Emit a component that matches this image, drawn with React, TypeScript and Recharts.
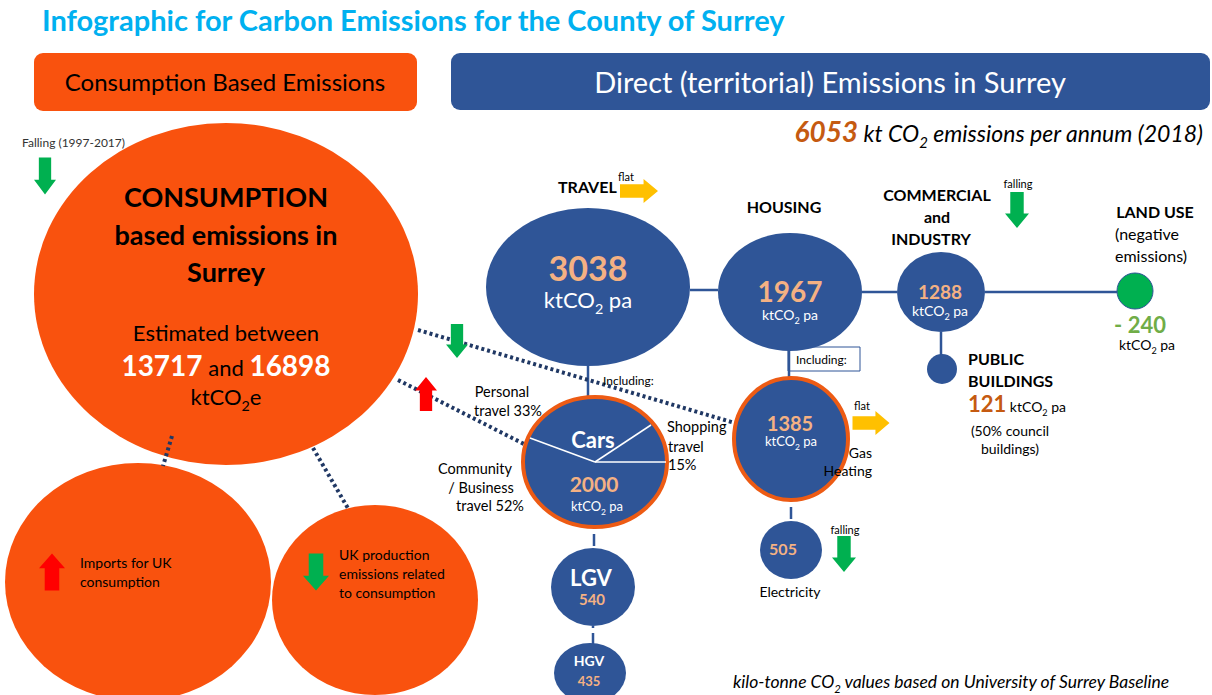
import { ScatterChart, Scatter, XAxis, YAxis, ReferenceArea } from "recharts";

const W = 1212;
const H = 695;
const FONT = "Lato, 'Open Sans', sans-serif";

const NAVY = "#2F5597";
const DARK = "#203864";
const ORANGE = "#F9520E";
const RING = "#ED5B14";
const PEACH = "#F4B183";
const RUST = "#C55A11";
const GREEN = "#00B050";
const RED = "#FF0000";
const YELLOW = "#FFC000";

// bubbles: centre and radii in chart units (the chart maps 1 unit = 1 px)
const consumptionBubbles = [
  { name: "Consumption", x: 226, y: 294, rx: 192, ry: 171, fill: ORANGE, stroke: "none" },
  { name: "Imports", x: 138, y: 582, rx: 133, ry: 119, fill: ORANGE, stroke: "none" },
  { name: "UK production", x: 375, y: 600, rx: 103, ry: 95, fill: ORANGE, stroke: "none" },
];
const directBubbles = [
  { name: "Travel", x: 588, y: 287, rx: 102, ry: 79, fill: NAVY, stroke: "none" },
  { name: "Housing", x: 790, y: 292, rx: 72, ry: 59, fill: NAVY, stroke: "none" },
  { name: "Commercial", x: 941, y: 292, rx: 44, ry: 40, fill: NAVY, stroke: "none" },
  { name: "Land use", x: 1135, y: 291, rx: 18, ry: 18, fill: GREEN, stroke: NAVY },
  { name: "Public", x: 942, y: 369, rx: 15, ry: 15, fill: NAVY, stroke: "none" },
  { name: "Cars", x: 595, y: 462, rx: 72, ry: 65, fill: NAVY, stroke: RING },
  { name: "Gas", x: 791, y: 439, rx: 57, ry: 61, fill: NAVY, stroke: RING },
  { name: "Electricity", x: 791, y: 550, rx: 31, ry: 29, fill: NAVY, stroke: "none" },
  { name: "LGV", x: 593, y: 587, rx: 42, ry: 39, fill: NAVY, stroke: "none" },
  { name: "HGV", x: 590, y: 673, rx: 36, ry: 30, fill: NAVY, stroke: "none" },
];

// trend arrows
const arrows = [
  { x: 45, y: 176, dir: "down", w: 22, h: 37, fill: GREEN },
  { x: 457, y: 341, dir: "down", w: 22, h: 34, fill: GREEN },
  { x: 426, y: 394, dir: "up", w: 22, h: 34, fill: RED },
  { x: 52, y: 572, dir: "up", w: 26, h: 37, fill: RED },
  { x: 316, y: 572, dir: "down", w: 26, h: 37, fill: GREEN },
  { x: 639, y: 191, dir: "right", w: 38, h: 24, fill: YELLOW },
  { x: 871, y: 423, dir: "right", w: 37, h: 24, fill: YELLOW },
  { x: 1017, y: 210, dir: "down", w: 24, h: 36, fill: GREEN },
  { x: 844, y: 554, dir: "down", w: 24, h: 36, fill: GREEN },
];

// connectors [x1, y1, x2, y2]
const solidLinks = [
  [690, 290, 718, 290],
  [862, 292, 897, 292],
  [985, 292, 1117, 292],
  [941, 332, 941, 355],
  [588, 366, 588, 397],
  [789, 350, 789, 378],
];
const dashDotLinks = [
  [791, 500, 791, 521],
  [594, 527, 594, 548],
  [593, 626, 593, 645],
];
const dottedLinks = [
  [172, 436, 163, 466],
  [313, 448, 349, 510],
  [398, 380, 524, 444],
  [418, 330, 735, 423],
];
const carSlices = [
  [595, 462, 530, 438],
  [595, 462, 651, 425],
  [595, 462, 666, 462],
];

const headers = [
  { x1: 34, x2: 417, y1: 53, y2: 111, fill: ORANGE },
  { x1: 451, x2: 1210, y1: 53, y2: 110, fill: NAVY },
];

const KT = [{ t: "ktCO" }, { t: "2", sub: true }, { t: " pa" }];

const labels: any[] = [
  { x: 42, y: 31, size: 29, bold: true, color: "#00B0F0", parts: "Infographic for Carbon Emissions for the County of Surrey" },
  { x: 225, y: 91, size: 24, anchor: "middle", parts: "Consumption Based Emissions" },
  { x: 830, y: 93, size: 29, anchor: "middle", color: "#fff", parts: "Direct (territorial) Emissions in Surrey" },
  { x: 1203, y: 142, size: 23, anchor: "end", italic: true, parts: [{ t: "6053", size: 28, bold: true, color: RUST }, { t: " kt CO" }, { t: "2", sub: true }, { t: "  emissions per annum (2018)" }] },
  { x: 22, y: 147, size: 12, color: "#333", parts: "Falling (1997-2017)" },
  { x: 226, y: 207, size: 27, bold: true, anchor: "middle", parts: "CONSUMPTION" },
  { x: 226, y: 245, size: 27, bold: true, anchor: "middle", parts: "based emissions in" },
  { x: 226, y: 282, size: 27, bold: true, anchor: "middle", parts: "Surrey" },
  { x: 226, y: 341, size: 22, anchor: "middle", parts: "Estimated between" },
  { x: 226, y: 376, size: 22, anchor: "middle", parts: [{ t: "13717", size: 28, bold: true, color: "#fff" }, { t: " and " }, { t: "16898", size: 28, bold: true, color: "#fff" }] },
  { x: 226, y: 405, size: 22, anchor: "middle", parts: [{ t: "ktCO" }, { t: "2", sub: true }, { t: "e" }] },
  { x: 80, y: 568, size: 14, parts: "Imports for UK" },
  { x: 80, y: 587, size: 14, parts: "consumption" },
  { x: 339, y: 560, size: 14, parts: "UK production" },
  { x: 339, y: 579, size: 14, parts: "emissions related" },
  { x: 339, y: 598, size: 14, parts: "to consumption" },
  { x: 558, y: 193, size: 16, bold: true, parts: "TRAVEL" },
  { x: 618, y: 181, size: 11, parts: "flat" },
  { x: 588, y: 281, size: 34, bold: true, anchor: "middle", color: PEACH, parts: "3038" },
  { x: 588, y: 308, size: 22, anchor: "middle", color: "#fff", parts: KT },
  { x: 784, y: 213, size: 16, bold: true, anchor: "middle", parts: "HOUSING" },
  { x: 790, y: 302, size: 28, bold: true, anchor: "middle", color: PEACH, parts: "1967" },
  { x: 790, y: 320, size: 14, anchor: "middle", color: "#fff", parts: KT },
  { x: 937, y: 201, size: 16, bold: true, anchor: "middle", parts: "COMMERCIAL" },
  { x: 937, y: 223, size: 16, bold: true, anchor: "middle", parts: "and" },
  { x: 931, y: 245, size: 16, bold: true, anchor: "middle", parts: "INDUSTRY" },
  { x: 1018, y: 188, size: 11, anchor: "middle", parts: "falling" },
  { x: 940, y: 299, size: 19, bold: true, anchor: "middle", color: PEACH, parts: "1288" },
  { x: 940, y: 316, size: 14, anchor: "middle", color: "#fff", parts: KT },
  { x: 1155, y: 218, size: 16, bold: true, anchor: "middle", parts: "LAND USE" },
  { x: 1147, y: 240, size: 16, anchor: "middle", parts: "(negative" },
  { x: 1151, y: 262, size: 16, anchor: "middle", parts: "emissions)" },
  { x: 1140, y: 333, size: 22, bold: true, anchor: "middle", color: "#70AD47", parts: "- 240" },
  { x: 1147, y: 350, size: 14, anchor: "middle", parts: KT },
  { x: 968, y: 365, size: 16, bold: true, parts: "PUBLIC" },
  { x: 968, y: 387, size: 16, bold: true, parts: "BUILDINGS" },
  { x: 968, y: 412, size: 14, parts: [{ t: "121", size: 22, bold: true, color: RUST }, { t: "  ktCO" }, { t: "2", sub: true }, { t: " pa" }] },
  { x: 1010, y: 436, size: 14, anchor: "middle", parts: "(50% council" },
  { x: 1010, y: 454, size: 14, anchor: "middle", parts: "buildings)" },
  { x: 603, y: 385, size: 12, parts: "Including:" },
  { x: 796, y: 364, size: 12, parts: "Including:" },
  { x: 593, y: 448, size: 22, bold: true, anchor: "middle", color: "#fff", parts: "Cars" },
  { x: 594, y: 492, size: 21, bold: true, anchor: "middle", color: PEACH, parts: "2000" },
  { x: 597, y: 511, size: 13, anchor: "middle", color: "#fff", parts: KT },
  { x: 502, y: 397, size: 14.5, anchor: "middle", parts: "Personal" },
  { x: 508, y: 416, size: 14.5, anchor: "middle", parts: "travel 33%" },
  { x: 667, y: 432, size: 14.5, parts: "Shopping" },
  { x: 668, y: 452, size: 14.5, parts: "travel" },
  { x: 668, y: 470, size: 14.5, parts: "15%" },
  { x: 475, y: 474, size: 14.5, anchor: "middle", parts: "Community" },
  { x: 481, y: 493, size: 14.5, anchor: "middle", parts: "/ Business" },
  { x: 490, y: 511, size: 14.5, anchor: "middle", parts: "travel  52%" },
  { x: 790, y: 431, size: 20, bold: true, anchor: "middle", color: PEACH, parts: "1385" },
  { x: 791, y: 446, size: 13, anchor: "middle", color: "#fff", parts: KT },
  { x: 862, y: 410, size: 11, anchor: "middle", parts: "flat" },
  { x: 872, y: 458, size: 14, anchor: "end", parts: "Gas" },
  { x: 872, y: 476, size: 14, anchor: "end", parts: "Heating" },
  { x: 783, y: 555, size: 16, bold: true, anchor: "middle", color: PEACH, parts: "505" },
  { x: 790, y: 597, size: 14, anchor: "middle", parts: "Electricity" },
  { x: 845, y: 534, size: 11, anchor: "middle", parts: "falling" },
  { x: 591, y: 586, size: 22, bold: true, anchor: "middle", color: "#fff", parts: "LGV" },
  { x: 592, y: 605, size: 15, bold: true, anchor: "middle", color: PEACH, parts: "540" },
  { x: 589, y: 666, size: 14, bold: true, anchor: "middle", color: "#fff", parts: "HGV" },
  { x: 589, y: 686, size: 13, bold: true, anchor: "middle", color: PEACH, parts: "435" },
  { x: 733, y: 688, size: 17.5, italic: true, parts: [{ t: "kilo-tonne CO" }, { t: "2", sub: true }, { t: " values based on University of Surrey Baseline" }] },
];

const EllipseShape = (props: any) => {
  const { cx, cy, payload } = props;
  return (
    <ellipse
      cx={cx}
      cy={cy}
      rx={payload.rx}
      ry={payload.ry}
      fill={payload.fill}
      stroke={payload.stroke}
      strokeWidth={payload.stroke === RING ? 4 : 1}
    />
  );
};

const ArrowShape = (props: any) => {
  const { cx, cy, payload } = props;
  const { w, h, dir, fill } = payload;
  let pts: number[][];
  if (dir === "right") {
    const head = w * 0.38;
    const s = h * 0.28;
    pts = [[-w / 2, -s], [w / 2 - head, -s], [w / 2 - head, -h / 2], [w / 2, 0], [w / 2 - head, h / 2], [w / 2 - head, s], [-w / 2, s]];
  } else {
    const head = h * 0.4;
    const s = w * 0.28;
    pts = [[-s, -h / 2], [s, -h / 2], [s, h / 2 - head], [w / 2, h / 2 - head], [0, h / 2], [-w / 2, h / 2 - head], [-s, h / 2 - head]];
    if (dir === "up") pts = pts.map(([a, b]) => [a, -b]);
  }
  return <polygon points={pts.map(([a, b]) => `${cx + a},${cy + b}`).join(" ")} fill={fill} />;
};

const TextShape = (props: any) => {
  const { cx, cy, payload } = props;
  const parts = typeof payload.parts === "string" ? [{ t: payload.parts }] : payload.parts;
  let prevShift = 0;
  return (
    <text
      x={cx}
      y={cy}
      textAnchor={payload.anchor || "start"}
      fontFamily={FONT}
      fontSize={payload.size}
      fontWeight={payload.bold ? 700 : 400}
      fontStyle={payload.italic ? "italic" : "normal"}
      fill={payload.color || "#000"}
    >
      {parts.map((p: any, i: number) => {
        const size = p.sub ? payload.size * 0.65 : p.size || payload.size;
        const shift = p.sub ? payload.size * 0.28 : 0;
        const dy = shift - prevShift;
        prevShift = shift;
        return (
          <tspan key={i} dy={dy} fontSize={size} fontWeight={p.bold ? 700 : undefined} fill={p.color}>
            {p.t}
          </tspan>
        );
      })}
    </text>
  );
};

const NoDot = () => <g />;

// a connector is a two-point scatter series joined by its line
const link = (l: number[], key: string, style: any) => (
  <Scatter
    key={key}
    data={[{ x: l[0], y: l[1] }, { x: l[2], y: l[3] }]}
    line={style}
    lineType="joint"
    shape={NoDot}
    isAnimationActive={false}
  />
);

export default function App() {
  return (
    <div style={{ position: "absolute", left: 0, top: 0, width: W, height: H, background: "#fff" }}>
      <ScatterChart width={W} height={H} margin={{ top: 0, right: 0, bottom: 0, left: 0 }}>
        <XAxis type="number" dataKey="x" domain={[0, W]} hide />
        <YAxis type="number" dataKey="y" domain={[0, H]} reversed hide />
        {headers.map((b, i) => (
          <ReferenceArea key={"h" + i} x1={b.x1} x2={b.x2} y1={b.y1} y2={b.y2} fill={b.fill} fillOpacity={1} stroke="none" radius={9} ifOverflow="visible" />
        ))}
        <ReferenceArea x1={788} x2={860} y1={347} y2={371} fill="#fff" fillOpacity={1} stroke={NAVY} strokeWidth={1} ifOverflow="visible" />
        <Scatter data={consumptionBubbles} shape={EllipseShape} isAnimationActive={false} />
        {solidLinks.map((l, i) => link(l, "s" + i, { stroke: NAVY, strokeWidth: 2.5 }))}
        {dashDotLinks.map((l, i) => link(l, "dd" + i, { stroke: NAVY, strokeWidth: 2.5, strokeDasharray: "2 5 12 5" }))}
        {dottedLinks.map((l, i) => link(l, "d" + i, { stroke: DARK, strokeWidth: 4, strokeDasharray: "3 3" }))}
        <Scatter data={directBubbles} shape={EllipseShape} isAnimationActive={false} />
        {carSlices.map((l, i) => link(l, "c" + i, { stroke: "#fff", strokeWidth: 1.5 }))}
        <Scatter data={arrows} shape={ArrowShape} isAnimationActive={false} />
        <Scatter data={labels} shape={TextShape} isAnimationActive={false} />
      </ScatterChart>
    </div>
  );
}
